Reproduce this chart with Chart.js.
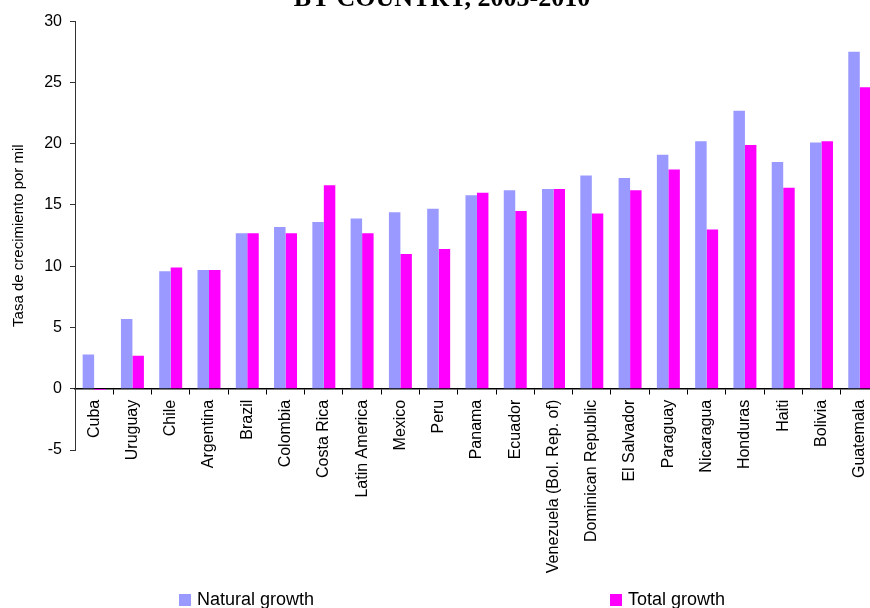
<!DOCTYPE html>
<html>
<head>
<meta charset="utf-8">
<title>Growth by country</title>
<script src="https://cdn.jsdelivr.net/npm/chart.js@4.4.0/dist/chart.umd.min.js"></script>
<style>
  html, body { margin: 0; padding: 0; background: #fff; overflow: hidden; }
  #wrap { position: relative; width: 870px; height: 608px; overflow: hidden; }
  #growth { position: absolute; left: 0; top: -23px; }
  #legend { position: absolute; left: 0; top: 588px; width: 870px; height: 24px;
            font: 18px 'Liberation Sans', Arial, sans-serif; color: #000; }
  #legend .item { position: absolute; top: 0; line-height: 22px; white-space: nowrap; }
  #legend .swatch { display: inline-block; width: 12px; height: 12px; margin-right: 6px;
                    vertical-align: -1px; }
</style>
</head>
<body>
<div id="wrap">
  <canvas id="growth" width="885" height="631"></canvas>
  <div id="legend"></div>
</div>
<script>
const countries = ['Cuba', 'Uruguay', 'Chile', 'Argentina', 'Brazil', 'Colombia', 'Costa Rica',
  'Latin America', 'Mexico', 'Peru', 'Panama', 'Ecuador', 'Venezuela (Bol. Rep. of)',
  'Dominican Republic', 'El Salvador', 'Paraguay', 'Nicaragua', 'Honduras', 'Haiti',
  'Bolivia', 'Guatemala'];
const naturalGrowth = [2.8, 5.7, 9.6, 9.7, 12.7, 13.2, 13.6, 13.9, 14.4, 14.7, 15.8,
  16.2, 16.3, 17.4, 17.2, 19.1, 20.2, 22.7, 18.5, 20.1, 27.5];
const totalGrowth = [-0.1, 2.7, 9.9, 9.7, 12.7, 12.7, 16.6, 12.7, 11.0, 11.4, 16.0,
  14.5, 16.3, 14.3, 16.2, 17.9, 13.0, 19.9, 16.4, 20.2, 24.6];
const yMin = -5, yMax = 30, yStep = 5;

const sans = "'Liberation Sans', Arial, sans-serif";

const growth = new Chart(document.getElementById('growth').getContext('2d'), {
    type: 'bar',
    data: {
        labels: countries,
        datasets: [
            { label: 'Natural growth', data: naturalGrowth, backgroundColor: '#9999ff' },
            { label: 'Total growth', data: totalGrowth, backgroundColor: '#ff00ff' }
        ]
    },
    options: {
        responsive: false,
        animation: false,
        layout: { padding: { top: 0, right: 1, bottom: 158, left: 0 } },
        datasets: { bar: { categoryPercentage: 0.6, barPercentage: 1, borderWidth: 0 } },
        plugins: {
            legend: { display: false },
            tooltip: { enabled: false },
            title: {
                display: true,
                text: 'BY COUNTRY, 2005-2010',
                color: '#000',
                font: { family: "'Liberation Serif', 'Times New Roman', serif", size: 26, weight: 'bold' },
                padding: { top: 7, bottom: 6 }
            }
        },
        scales: {
            x: {
                position: { y: 0 },
                grid: { drawOnChartArea: false, tickLength: 5, color: '#000' },
                border: { color: '#000', width: 1.5 },
                ticks: {
                    autoSkip: false, minRotation: 90, maxRotation: 90, padding: 6,
                    color: '#000', font: { family: sans, size: 16 }
                }
            },
            y: {
                min: yMin, max: yMax,
                grid: { drawOnChartArea: false, tickLength: 5, color: '#333' },
                border: { color: '#333', width: 1 },
                ticks: { stepSize: yStep, padding: 8, color: '#000', font: { family: sans, size: 16 } },
                title: {
                    display: true, text: 'Tasa de crecimiento por mil', color: '#000',
                    font: { family: sans, size: 15 }, padding: { top: 10, bottom: 0 }
                },
                afterFit: (scale) => { scale.width = 75; }
            }
        }
    }
});

// legend laid out as two separate entries under the plot
const legendBox = document.getElementById('legend');
const legendLeft = ['179px', '610px'];
growth.data.datasets.forEach((ds, i) => {
    const item = document.createElement('span');
    item.className = 'item';
    item.style.left = legendLeft[i];
    const swatch = document.createElement('span');
    swatch.className = 'swatch';
    swatch.style.background = ds.backgroundColor;
    item.appendChild(swatch);
    item.appendChild(document.createTextNode(ds.label));
    legendBox.appendChild(item);
});
</script>
</body>
</html>
